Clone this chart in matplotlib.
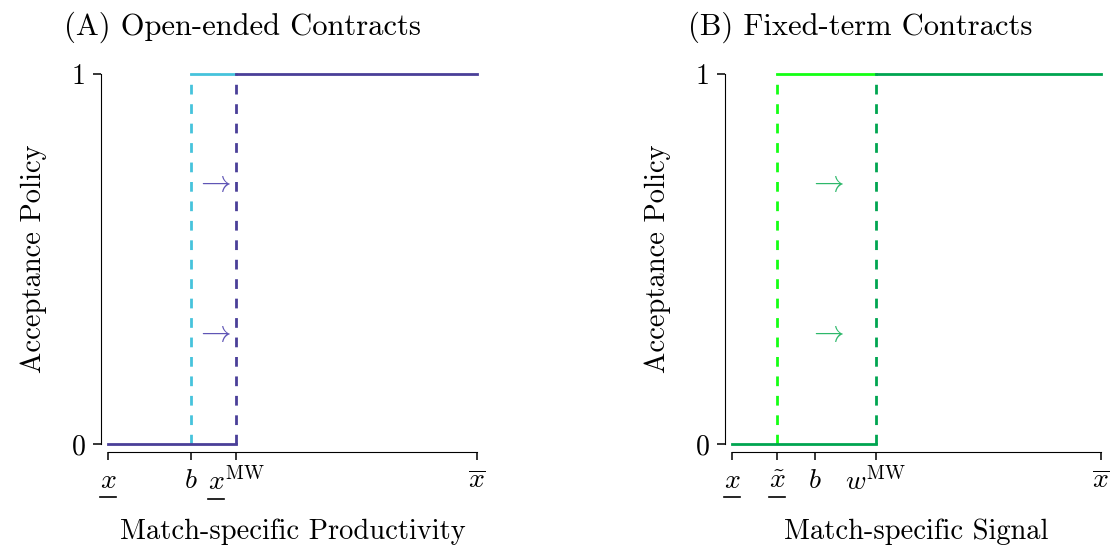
import matplotlib
matplotlib.use('Agg')
import matplotlib.pyplot as plt
from matplotlib.lines import Line2D
from matplotlib.transforms import IdentityTransform

plt.rcParams['font.family'] = ['cmr10', 'DejaVu Serif']
plt.rcParams['mathtext.fontset'] = 'cm'
plt.rcParams['axes.unicode_minus'] = False

# panel A: thresholds on [x_lower, x_bar] = [0, 1]
a_ticks = [0.0, 0.225, 0.347, 1.0]
a_labels = [r'$x$', r'$b$', r'$x^{\mathrm{MW}}$', r'$\overline{x}$']
a_under = [0, 2]   # labels whose x gets underlined
a_old = 0.225   # b
a_new = 0.347   # x^MW

# panel B
b_ticks = [0.0, 0.122, 0.225, 0.39, 1.0]
b_labels = [r'$x$', r'$\tilde{x}$', r'$b$', r'$w^{\mathrm{MW}}$', r'$\overline{x}$']
b_under = [0, 1]
b_old = 0.122   # x tilde
b_new = 0.39    # w^MW

arrow_y = [0.705, 0.30]
a_arrow_x = 0.285
b_arrow_x = 0.255

titles = ['(A) Open-ended Contracts', '(B) Fixed-term Contracts']
xlabels = ['Match-specific Productivity', 'Match-specific Signal']

TICK_FS = 20

fig = plt.figure(figsize=(11.16, 5.52), dpi=100)
W, H = 1116, 552
ax1 = fig.add_axes([108 / W, 1 - 444 / H, 369 / W, 370 / H])
ax2 = fig.add_axes([732 / W, 1 - 444 / H, 369 / W, 370 / H])

def panel(ax, old, new, ticks, labels, c_old, c_new, c_arrow, ax_x, title, xlabel):
    lw = 2.0
    dash = (0, (3.5, 3.5))
    # old policy (light)
    ax.plot([old, old], [0, 1], color=c_old, lw=lw, ls=dash, clip_on=False)
    ax.plot([old, new], [1, 1], color=c_old, lw=lw, clip_on=False)
    # new policy (dark)
    ax.plot([0, new], [0, 0], color=c_new, lw=lw, clip_on=False)
    ax.plot([new, new], [0, 1], color=c_new, lw=lw, ls=dash, clip_on=False)
    ax.plot([new, 1], [1, 1], color=c_new, lw=lw, clip_on=False)
    for y in arrow_y:
        ax.text(ax_x, y, r'$\rightarrow$', color=c_arrow, fontsize=22,
                ha='center', va='center')
    ax.set_xlim(0, 1)
    ax.set_ylim(0, 1)
    for s in ['top', 'right']:
        ax.spines[s].set_visible(False)
    ax.spines['left'].set_position(('outward', 5))
    ax.spines['bottom'].set_position(('outward', 6))
    ax.spines['left'].set_bounds(0, 1)
    ax.spines['bottom'].set_bounds(0, 1)
    ax.set_xticks(ticks)
    ax.set_xticklabels(labels)
    ax.set_yticks([0, 1])
    ax.set_yticklabels(['0', '1'])
    ax.tick_params(labelsize=TICK_FS, length=6, width=1.1)
    ax.tick_params(axis='x', pad=5)
    ax.tick_params(axis='y', pad=5)
    ax.set_ylabel('Acceptance Policy', fontsize=20.5, labelpad=18)
    ax.set_xlabel(xlabel, fontsize=20.5, labelpad=16)
    ax.set_title(title, fontsize=22, loc='left', x=-0.12, pad=28)

panel(ax1, a_old, a_new, a_ticks, a_labels, '#46C3DC', '#4A3F98', '#5F55B5',
      a_arrow_x, titles[0], xlabels[0])
panel(ax2, b_old, b_new, b_ticks, b_labels, '#14FF14', '#00A550', '#2DB86A',
      b_arrow_x, titles[1], xlabels[1])

# mathtext has no \underline: draw the bars under the x by hand
fig.canvas.draw()
r = fig.canvas.get_renderer()
probe = fig.text(0, 0, r'$x$', fontsize=TICK_FS)
xw = probe.get_window_extent(r).width
probe.remove()
for ax, idx in [(ax1, a_under), (ax2, b_under)]:
    tl = ax.get_xticklabels()
    for i in idx:
        bb = tl[i].get_window_extent(r)
        y = bb.y0 - 3
        fig.add_artist(Line2D([bb.x0, bb.x0 + xw], [y, y], color='black', lw=1.2,
                              transform=IdentityTransform()))

fig.savefig('out.png', dpi=100)
